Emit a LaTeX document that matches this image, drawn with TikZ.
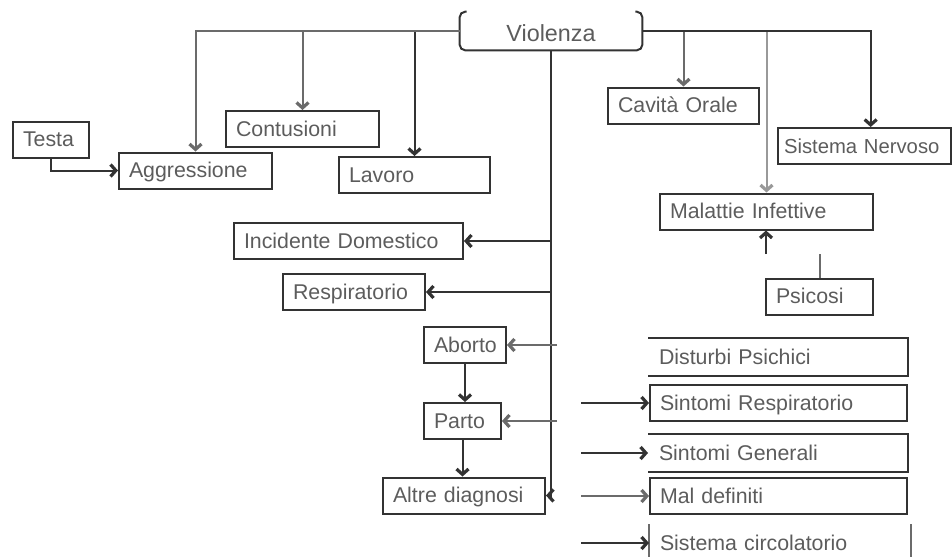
\documentclass[tikz,border=0pt]{standalone}
\usepackage{fontspec}
\setmainfont{Liberation Sans}
\usetikzlibrary{arrows.meta,calc}
\definecolor{dk}{gray}{0.2}
\definecolor{md}{gray}{0.42}
\definecolor{lt}{gray}{0.6}
\definecolor{tx}{gray}{0.36}
\tikzset{b/.style={draw=dk, line width=1.5pt, text=tx, font=\fontsize{16}{16}\selectfont, inner xsep=7.5pt, inner ysep=0pt, minimum height=27pt, text height=1.1em, text depth=0pt, anchor=west, align=left}}
\tikzset{nb/.style={b, draw=none}}
\tikzset{c/.style={line width=1.5pt, draw=dk, -{Straight Barb[length=4pt,width=9pt,line width=2.4pt]}}}
\tikzset{g/.style={c, draw=md}}
\tikzset{t/.style={c, line width=0.8pt}}
\tikzset{edge/.style={draw=dk, line width=1.5pt}}

\begin{document}
\begin{tikzpicture}[x=0.75pt, y=-0.75pt]
    \useasboundingbox (0,0) rectangle (952,557);
    \node[draw=none, text=tx, font=\fontsize{17.5}{17.5}\selectfont, minimum width=136.5pt, minimum height=28.5pt, inner sep=0pt, text height=1.55em, text depth=0pt] (viol) at (551,31) {Violenza};
    \draw[edge, rounded corners=4pt] ($(viol.north west)+(7,0)$) -- (viol.north west) -- (viol.south west) -- (viol.south east) -- (viol.north east) -- ($(viol.north east)+(-7,0)$);
    \node[b, text width=42pt] (testa) at (12,139.5) {Testa};
    \node[b, text width=99.75pt] (aggr) at (118,170.5) {Aggressione};
    \node[b, text width=99.75pt] (contus) at (225,129) {Contusioni};
    \node[b, text width=98.25pt] (lavoro) at (338,175) {Lavoro};
    \node[b, text width=98.25pt] (cavita) at (607,105.5) {Cavità Orale};
    \node[b, text width=121pt, inner xsep=4.5pt, font=\fontsize{15.2}{15.2}\selectfont] (nervoso) at (777,146) {Sistema Nervoso};
    \node[b, text width=144.75pt] (malattie) at (659,211.5) {Malattie Infettive};
    \node[b, text width=65.25pt] (psicosi) at (765,296.5) {Psicosi};
    \node[b, text width=156.75pt] (incid) at (233,241) {Incidente Domestico};
    \node[b, text width=91.5pt] (resp) at (282,292) {Respiratorio};
    \node[b, text width=46.5pt] (aborto) at (423,345) {Aborto};
    \node[b, text width=42.75pt] (parto) at (423,421) {Parto};
    \node[b, text width=106.5pt] (altre) at (382,495.5) {Altre diagnosi};
    \node[nb, text width=178.5pt] (disturbi) at (648,357) {Disturbi Psichici};
    \node[b, text width=177.75pt] (sintresp) at (649,403) {Sintomi Respiratorio};
    \node[nb, text width=178.5pt] (sintgen) at (648,453) {Sintomi Generali};
    \node[b, text width=177.75pt] (maldef) at (649,496) {Mal definiti};
    \node[nb, text width=180pt] (circ) at (649,543) {Sistema circolatorio};
    \draw[edge] (disturbi.north west) -- (disturbi.north east) -- (disturbi.south east) -- (disturbi.south west);
    \draw[edge] (sintgen.north west) -- (sintgen.north east) -- (sintgen.south east) -- (sintgen.south west);
    \coordinate (floor) at (0,557);
    \draw[edge, draw=md] (circ.north west) -- (circ.north west |- floor);
    \draw[edge, draw=md] (circ.north east) -- (circ.north east |- floor);
    \draw[c] (viol.west) -| (lavoro.north);
    \draw[g] (viol.west) -| (contus.north);
    \draw[g] (viol.west) -| (aggr.north);
    \draw[c] (testa.south) |- (aggr.west);
    \draw[g] (viol.east) -| (cavita.north);
    \draw[g, draw=lt] (viol.east) -| (malattie.north);
    \draw[c] (viol.east) -| ([xshift=4.5pt]nervoso.north);
    \coordinate (pa) at (818,254);
    \coordinate (pb) at (766,254);
    \draw[edge, draw=md] (psicosi.north) -- (psicosi.north |- pa);
    \draw[c] (pb) -- (pb |- malattie.south);
    \draw[c] (viol.south) |- (altre.east);
    \draw[c] (viol.south |- incid.east) -- (incid.east);
    \draw[c] (viol.south |- resp.east) -- (resp.east);
    \coordinate (tap) at (557,0);
    \draw[g] (tap |- aborto.east) -- (aborto.east);
    \draw[g] (tap |- parto.east) -- (parto.east);
    \draw[c] (aborto.south) -- (aborto.south |- parto.north);
    \draw[c] (parto.south) -- (parto.south |- altre.north);
    \coordinate (src) at (581,0);
    \draw[t] (src |- sintresp.west) -- (sintresp.west);
    \draw[t] (src |- sintgen.west) -- (sintgen.west);
    \draw[g] (src |- maldef.west) -- (maldef.west);
    \draw[t] (src |- circ.west) -- (circ.west);
  \end{tikzpicture}
\end{document}
